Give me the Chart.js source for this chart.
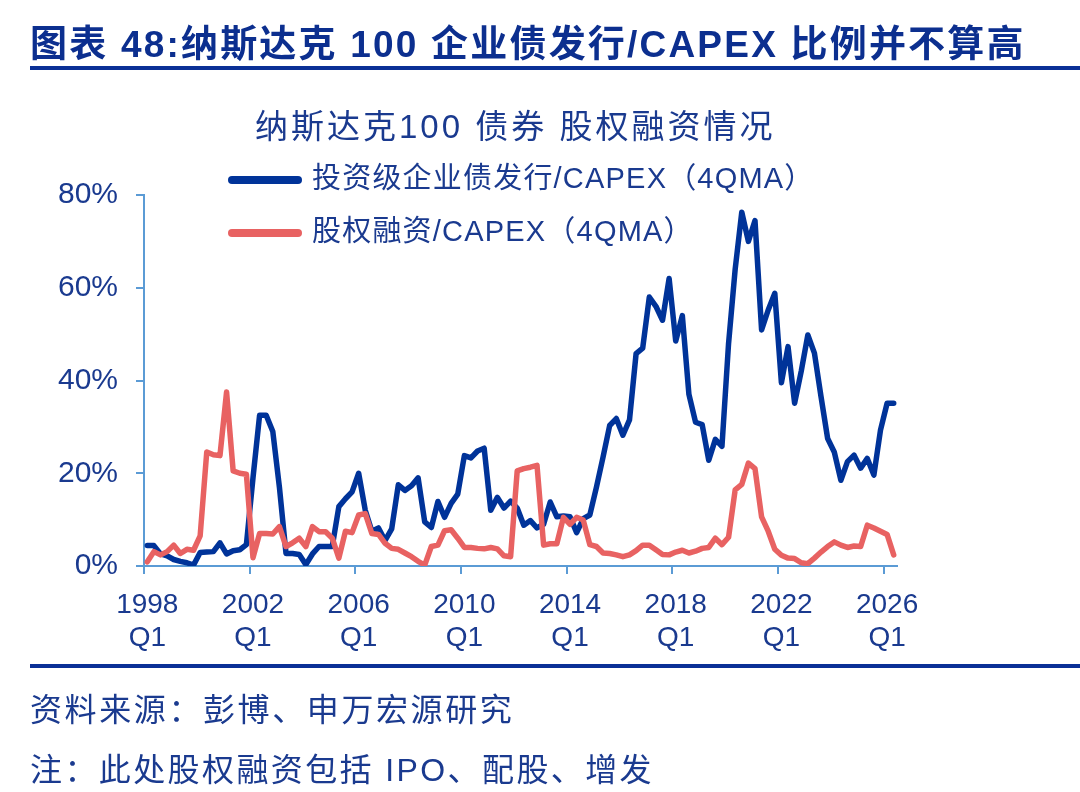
<!DOCTYPE html>
<html>
<head>
<meta charset="utf-8">
<script src="https://cdn.jsdelivr.net/npm/chart.js@4.4.1/dist/chart.umd.min.js"></script>
<style>
html, body { margin: 0; padding: 0; background: #fff; }
#wrap { position: relative; width: 1080px; height: 792px; overflow: hidden; }
#c { position: absolute; left: 0; top: 0; }
.txt { position: absolute; white-space: nowrap; color: #1a3a8f;
       font-family: "Liberation Sans", "Noto Sans CJK SC", sans-serif; }
#head { left: 30px; top: 14px; font-size: 37px; font-weight: bold; color: #0c2f8f; letter-spacing: 2.2px; }
.rule { position: absolute; left: 30px; width: 1050px; height: 4px; background: #0a3096; }
#sub  { left: 255px; top: 100px; font-size: 33px; letter-spacing: 3px; }
#src  { left: 30px; top: 684px; font-size: 32px; letter-spacing: 2.6px; }
#note { left: 30px; top: 744px; font-size: 32px; letter-spacing: 2.4px; }
</style>
</head>
<body>
<div id="wrap">
  <canvas id="c" width="1080" height="792"></canvas>
  <div class="txt" id="head">图表 48:纳斯达克 100 企业债发行/CAPEX 比例并不算高</div>
  <div class="rule" style="top:66px"></div>
  <div class="txt" id="sub">纳斯达克100 债券 股权融资情况</div>
  <div class="rule" style="top:664px"></div>
  <div class="txt" id="src">资料来源：彭博、申万宏源研究</div>
  <div class="txt" id="note">注：此处股权融资包括 IPO、配股、增发</div>
</div>
<script>
// quarterly, 1998Q1 .. 2026Q2 (114 points), values in %
var firstYear = 1998;
var nQuarters = 114;
var tickYears = ["1998", "2002", "2006", "2010", "2014", "2018", "2022", "2026"];

var bondLabel   = "投资级企业债发行/CAPEX（4QMA）";
var equityLabel = "股权融资/CAPEX（4QMA）";

// one value per quarter
var bondVals = [
  4.4, 4.4, 2.6, 2.2, 1.4, 1.0, 0.7, 0.2, 2.9, 3.0, 3.1, 5.0, 2.6, 3.3, 3.5, 4.6,
  19, 32.5, 32.5, 29, 17, 2.7, 2.7, 2.5, 0.3, 2.6, 4.2, 4.2, 4.2, 12.8, 14.5, 16,
  20, 12, 7.5, 8.2, 5.5, 8, 17.5, 16.3, 17.3, 19, 9.5, 8.3, 13.9, 10.5, 13.5, 15.5,
  23.8, 23.3, 24.8, 25.4, 12, 14.8, 12.5, 14, 12.5, 8.8, 9.8, 8.2, 9.0, 13.8, 10.6, 10.8,
  10.6, 7.2, 10.2, 11, 17, 23.5, 30.3, 31.8, 28.2, 31.5, 45.8, 47, 58, 56, 53, 62,
  48.5, 54, 37, 31, 30.5, 22.8, 27.3, 25.8, 48, 64, 76.3, 70, 74.5, 50.9, 55.2, 58.8,
  39.5, 47.3, 35.1, 42, 49.8, 45.9, 36.5, 27.5, 24.6, 18.5, 22.5, 23.9, 21.1, 23.2, 19.6, 29.3,
  35.1, 35.1
];
var equityVals = [
  0.9, 3.1, 2.4, 3.1, 4.5, 2.7, 3.6, 3.4, 6.5, 24.6, 24, 23.8, 37.5, 20.5, 20, 19.8,
  1.8, 7, 7, 6.9, 8.5, 4.2, 5, 6, 4.2, 8.5, 7.4, 7.4, 6, 1.7, 7.5, 7.2,
  11, 11.3, 7, 6.8, 4.9, 3.8, 3.6, 2.8, 2.0, 1.0, 0.2, 4.2, 4.5, 7.6, 7.8, 6,
  4.0, 4.0, 3.8, 3.7, 4.0, 3.7, 2.2, 2.0, 20.5, 21.0, 21.3, 21.7, 4.5, 4.8, 4.8, 10.5,
  9.0, 10.5, 9.9, 4.6, 4.2, 2.8, 2.7, 2.4, 2.0, 2.4, 3.3, 4.5, 4.5, 3.5, 2.5, 2.4,
  3.0, 3.4, 2.8, 3.2, 3.8, 4.0, 6.0, 4.6, 6.2, 16.4, 17.6, 22.2, 21, 10.6, 7.5, 3.6,
  2.3, 1.7, 1.6, 0.7, 0.5, 1.7, 3.0, 4.2, 5.2, 4.5, 4.0, 4.3, 4.2, 8.8, 8.2, 7.5,
  6.8, 2.4
];

var BLUE = "#003399";
var RED  = "#e86262";
var AXIS = "#5b9bd5";
var TXT  = "#1a3a8f";
var FONT = '"Liberation Sans", "Noto Sans CJK SC", sans-serif';

var quarters = [];
for (var i = 0; i < nQuarters; i++) {
  quarters.push((firstYear + Math.floor(i / 4)) + "Q" + (i % 4 + 1));
}

// legend sits inside the plot, stacked, so draw it by hand
var stackedLegend = {
  id: "stackedLegend",
  afterDraw: function(chart) {
    var c = chart.ctx;
    var rows = [180, 233];
    c.save();
    chart.data.datasets.forEach(function(ds, k) {
      var y = rows[k];
      c.strokeStyle = ds.borderColor;
      c.lineWidth = 8;
      c.lineCap = "round";
      c.beginPath();
      c.moveTo(232, y);
      c.lineTo(298, y);
      c.stroke();
      c.fillStyle = TXT;
      c.font = "29px " + FONT;
      c.letterSpacing = "1.2px";
      c.textBaseline = "middle";
      c.fillText(ds.label, 312, y);
    });
    c.restore();
  }
};

new Chart(document.getElementById("c"), {
  type: "line",
  data: {
    labels: quarters,
    datasets: [
      { label: bondLabel, data: bondVals, borderColor: BLUE, order: 2 },
      { label: equityLabel, data: equityVals, borderColor: RED, order: 1 }
    ]
  },
  options: {
    responsive: false,
    animation: false,
    layout: { padding: { left: 0, right: 183, top: 195, bottom: 132 } },
    elements: {
      line: { borderWidth: 5.5, tension: 0, borderJoinStyle: "round", borderCapStyle: "round" },
      point: { radius: 0 }
    },
    plugins: { legend: { display: false }, tooltip: { enabled: false } },
    scales: {
      x: {
        type: "category",
        offset: true,
        afterFit: function(s) { s.height = 94; },
        border: { color: AXIS, width: 2 },
        grid: {
          offset: true,
          drawOnChartArea: false,
          tickLength: 8,
          lineWidth: 2,
          color: function(ctx) { return ctx.index % 16 === 0 ? AXIS : "rgba(0,0,0,0)"; }
        },
        ticks: {
          autoSkip: false,
          maxRotation: 0,
          padding: 14,
          color: TXT,
          font: { family: FONT, size: 28, lineHeight: 1.2 },
          callback: function(v, i) {
            return i % 16 === 0 ? [tickYears[i / 16], "Q1"] : "";
          }
        }
      },
      y: {
        min: 0, max: 80,
        afterFit: function(s) { s.width = 144; },
        border: { color: AXIS, width: 2 },
        grid: { drawOnChartArea: false, tickLength: 8, lineWidth: 2, color: AXIS },
        ticks: {
          stepSize: 20,
          padding: 18,
          color: TXT,
          font: { family: FONT, size: 30 },
          callback: function(v) { return v + "%"; }
        }
      }
    }
  },
  plugins: [stackedLegend]
});
</script>
</body>
</html>
